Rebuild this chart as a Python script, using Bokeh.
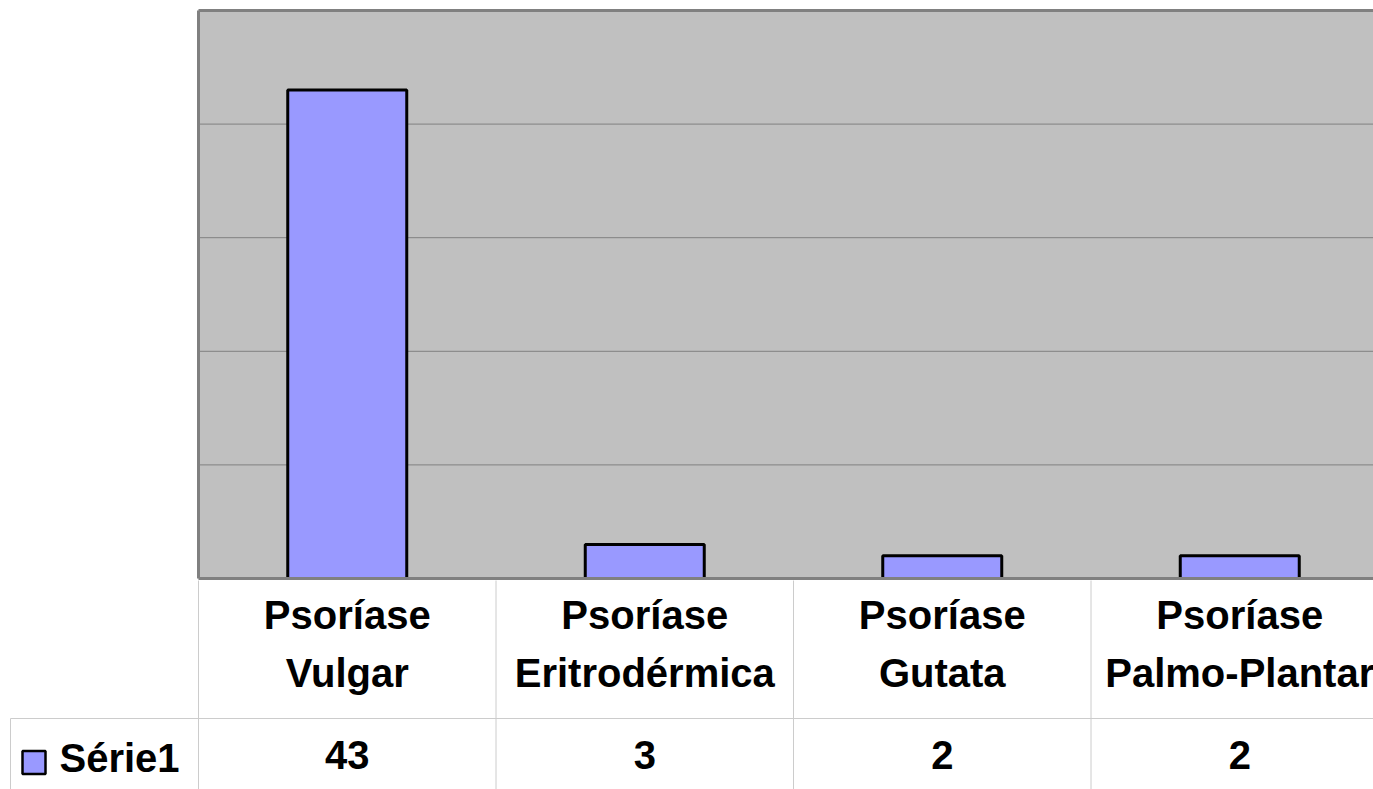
from bokeh.plotting import figure
from bokeh.models import Range1d
from bokeh.core.properties import value
from bokeh.embed import file_html
from bokeh.resources import INLINE

# ---- data ----
categories = ["Psoríase\nVulgar", "Psoríase\nEritrodérmica", "Psoríase\nGutata", "Psoríase\nPalmo-Plantar"]
series_name = "Série1"
values = [43, 3, 2, 2]
y_ticks = [10, 20, 30, 40]
y_max = 50

# ---- layout constants (pixels) ----
W, H = 1373, 789
FRAME_LEFT = 198       # left edge of chart area
CHART_TOP = 10         # top edge of chart area
CHART_BOTTOM = 578     # value axis zero line
PX_PER_CAT = 297.5
PX_PER_UNIT = (CHART_BOTTOM - CHART_TOP) / y_max
TXT_SHIFT = 18         # baseline correction

FONT = value("Liberation Sans")
BAR_FILL = "#9999FF"
BORDER_C = "#808080"
TABLE_C = "#CCCCCC"

x_lo = -FRAME_LEFT / PX_PER_CAT
x_hi = (W - FRAME_LEFT) / PX_PER_CAT
v_lo = -(H - CHART_BOTTOM) / PX_PER_UNIT
v_hi = y_max + CHART_TOP / PX_PER_UNIT

p = figure(width=W, height=H, output_backend="svg", toolbar_location=None,
           x_range=Range1d(x_lo, x_hi), y_range=Range1d(0, H),
           x_axis_type=None, y_axis_type=None,
           min_border_left=0, min_border_right=0, min_border_top=0, min_border_bottom=0)
p.extra_y_ranges = {"val": Range1d(v_lo, v_hi)}
p.outline_line_color = None
p.background_fill_color = "white"
p.border_fill_color = "white"
p.grid.visible = False

n = len(categories)
xc = [i + 0.5 for i in range(n)]

# chart area background and grid
p.quad(left=[0], right=[x_hi + 1], bottom=[0], top=[y_max], fill_color="#C0C0C0",
       line_color=None, y_range_name="val")
p.segment(x0=[0] * len(y_ticks), x1=[x_hi + 1] * len(y_ticks), y0=y_ticks, y1=y_ticks,
          line_color=BORDER_C, line_width=1, y_range_name="val")

# bars
p.vbar(x=xc, top=values, bottom=0, width=0.4, fill_color=BAR_FILL, line_color="black",
       line_width=3, y_range_name="val")

# chart borders (top, left, bottom)
p.segment(x0=[0, 0, 0], x1=[x_hi + 1, 0, x_hi + 1], y0=[y_max, 0, 0], y1=[y_max, y_max, 0],
          line_color=BORDER_C, line_width=3, y_range_name="val")

# ---- data table ----
table_top = H - CHART_BOTTOM
row_line = H - 718
bounds = list(range(n))
p.segment(x0=bounds, x1=bounds, y0=[0] * n, y1=[table_top - 2] * n, line_color=TABLE_C, line_width=1)
cell_left = x_lo + 10 / PX_PER_CAT
p.segment(x0=[cell_left, cell_left], x1=[x_hi + 1, cell_left], y0=[row_line, 0], y1=[row_line, row_line],
          line_color=TABLE_C, line_width=1)

line1 = [c.split("\n")[0] for c in categories]
line2 = [c.split("\n")[1] for c in categories]
common = dict(text_font=FONT, text_font_style="bold", text_font_size="40px",
              text_color="black", text_align="center", text_baseline="alphabetic")
p.text(x=xc, y=[H - 632 + TXT_SHIFT] * n, text=line1, **common)
p.text(x=xc, y=[H - 690 + TXT_SHIFT] * n, text=line2, **common)
p.text(x=xc, y=[H - 772 + TXT_SHIFT] * n, text=[str(v) for v in values], **common)

# legend key
p.scatter(x=[x_lo + 33.5 / PX_PER_CAT], y=[H - 762], marker="square", size=23,
          fill_color=BAR_FILL, line_color="black", line_width=2.5)
p.text(x=[x_lo + 59 / PX_PER_CAT], y=[H - 775 + TXT_SHIFT], text=[series_name], text_font=FONT,
       text_font_style="bold", text_font_size="40px", text_color="black",
       text_align="left", text_baseline="alphabetic")

open("out.html", "w").write(file_html(p, INLINE))
